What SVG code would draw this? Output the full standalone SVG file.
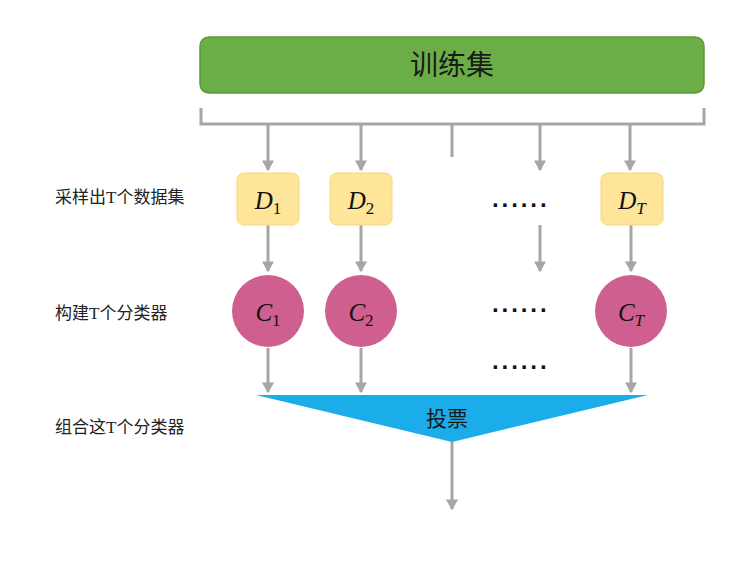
<svg xmlns="http://www.w3.org/2000/svg" width="739" height="573" viewBox="0 0 739 573">
<defs>
<marker id="ah" markerWidth="4" markerHeight="4" refX="3.2" refY="2" orient="auto" markerUnits="strokeWidth">
<path d="M0,0 L3.6,2 L0,4 Z" fill="#a6a6a6"/>
</marker>
<style>
.ln{stroke:#a6a6a6;stroke-width:3;fill:none}
.ar{stroke:#a6a6a6;stroke-width:3;fill:none;marker-end:url(#ah)}
.lbl{font-family:"Noto Sans CJK SC","Noto Sans",sans-serif;font-size:17px;fill:#222}
.tt{font-family:"Liberation Serif",serif}
.dbox{fill:#fee599;stroke:#f6d77a;stroke-width:1}
.circ{fill:#cf5f8e}
.m{font-family:"Liberation Serif",serif;font-style:italic;font-size:25px;fill:#111}
.s{font-family:"Liberation Serif",serif;font-size:17px;fill:#111}
.si{font-family:"Liberation Serif",serif;font-style:italic;font-size:17px;fill:#111}
.dots{font-family:"Liberation Sans",sans-serif;font-size:24px;font-weight:bold;fill:#111;letter-spacing:1.6px}
</style>
</defs>
<rect width="739" height="573" fill="#ffffff"/>

<g id="training-set">
<rect x="200" y="37" width="504" height="56" rx="9" fill="#6bae47" stroke="#5b9a3b" stroke-width="1.5"/>
<text x="452" y="75" text-anchor="middle" font-family="Noto Sans CJK SC,sans-serif" font-size="28" fill="#1a1a1a">训练集</text>
</g>

<g id="connectors">
<path class="ln" d="M201,108 V124 H704 V108"/>
<path class="ln" d="M452,124 V157"/>
<path class="ar" d="M268,124 V170"/>
<path class="ar" d="M361,124 V170"/>
<path class="ar" d="M540,124 V170"/>
<path class="ar" d="M630,124 V170"/>
<path class="ar" d="M268,225 V271"/>
<path class="ar" d="M361,225 V271"/>
<path class="ar" d="M540,225 V271"/>
<path class="ar" d="M631,225 V271"/>
<path class="ar" d="M268,348 V392"/>
<path class="ar" d="M361,348 V392"/>
<path class="ar" d="M631,348 V392"/>
<path class="ar" d="M452,442 V509"/>
</g>

<g id="label-sample"><text class="lbl" x="55" y="203">采样出<tspan class="tt">T</tspan>个数据集</text></g>
<g id="label-build"><text class="lbl" x="55" y="319">构建<tspan class="tt">T</tspan>个分类器</text></g>
<g id="label-combine"><text class="lbl" x="55" y="433">组合这<tspan class="tt">T</tspan>个分类器</text></g>

<g id="D1">
<rect class="dbox" x="237" y="173" width="62" height="52" rx="7"/>
<text x="268" y="209" text-anchor="middle"><tspan class="m">D</tspan><tspan class="s" dy="5">1</tspan></text>
</g>
<g id="D2">
<rect class="dbox" x="330" y="173" width="62" height="52" rx="7"/>
<text x="361" y="209" text-anchor="middle"><tspan class="m">D</tspan><tspan class="s" dy="5">2</tspan></text>
</g>
<g id="dots-D"><text class="dots" x="492" y="213">······</text></g>
<g id="DT">
<rect class="dbox" x="601" y="173" width="62" height="52" rx="7"/>
<text x="632" y="209" text-anchor="middle"><tspan class="m">D</tspan><tspan class="si" dy="5">T</tspan></text>
</g>

<g id="C1">
<circle class="circ" cx="268" cy="311" r="36"/>
<text x="268" y="321" text-anchor="middle"><tspan class="m">C</tspan><tspan class="s" dy="5">1</tspan></text>
</g>
<g id="C2">
<circle class="circ" cx="361" cy="311" r="36"/>
<text x="361" y="321" text-anchor="middle"><tspan class="m">C</tspan><tspan class="s" dy="5">2</tspan></text>
</g>
<g id="dots-C"><text class="dots" x="492" y="318">······</text></g>
<g id="CT">
<circle class="circ" cx="631" cy="311" r="36"/>
<text x="631" y="321" text-anchor="middle"><tspan class="m">C</tspan><tspan class="si" dy="5">T</tspan></text>
</g>
<g id="dots-3"><text class="dots" x="492" y="375">······</text></g>

<g id="vote">
<polygon points="256,395 648,395 452,442" fill="#1aade9"/>
<text x="447" y="426" text-anchor="middle" font-family="Noto Sans CJK SC,sans-serif" font-size="21" fill="#1a1a1a">投票</text>
</g>
</svg>
